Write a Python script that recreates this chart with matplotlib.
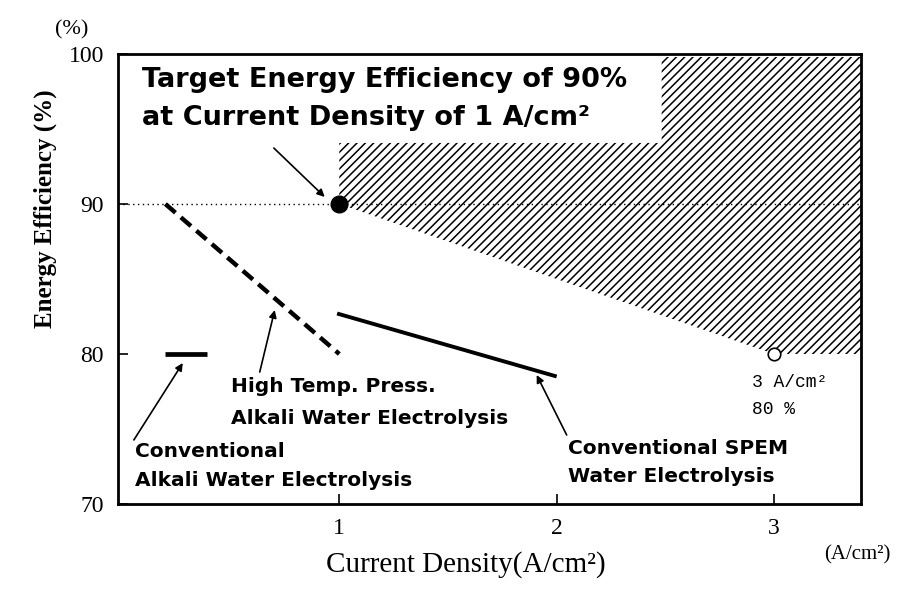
import matplotlib
matplotlib.use("Agg")
import matplotlib.pyplot as plt
from matplotlib.patches import Polygon

# ---- data ----
target_point = (1.0, 90.0)          # target: 1 A/cm2, 90 %
goal_point = (3.0, 80.0)            # 3 A/cm2, 80 %
reference_level = 90.0
conv_alkali_x = [0.2, 0.39]
conv_alkali_y = [80.0, 80.0]
htp_alkali_x = [0.2, 1.0]
htp_alkali_y = [90.0, 80.0]
spem_x = [0.99, 2.0]
spem_y = [82.7, 78.5]
x_ticks = [1, 2, 3]
y_ticks = [70, 80, 90, 100]

XMIN, XMAX = -0.018, 3.40
YMIN, YMAX = 70, 100

plt.rcParams['hatch.linewidth'] = 1.1
plt.rcParams['hatch.color'] = 'black'
fig = plt.figure(figsize=(9.02, 5.96), dpi=100)
ax = fig.add_axes([118/902, 1-504/596, 743/902, 450/596])
ax.set_xlim(XMIN, XMAX)
ax.set_ylim(YMIN, YMAX)

serif = 'Liberation Serif'
sans = 'DejaVu Sans'

# hatched target region (box cut out for the title text)
box_right = 2.483
box_bottom = 94.07
poly = Polygon([(target_point[0], box_bottom), (box_right, box_bottom),
                (box_right, YMAX - 0.2), (XMAX, YMAX - 0.2), (XMAX, goal_point[1]),
                goal_point, target_point],
               closed=True, facecolor='none', edgecolor='black', hatch='////', linewidth=0)
ax.add_patch(poly)

# dotted 90% line
ax.plot([XMIN, XMAX], [reference_level, reference_level], color='black', lw=1.0,
        linestyle=(0, (1, 2.5)), zorder=2)

# series
ax.plot(conv_alkali_x, conv_alkali_y, color='black', lw=3.4, solid_capstyle='butt', zorder=3)
ax.plot(htp_alkali_x, htp_alkali_y, color='black', lw=3.2, linestyle=(0, (3, 1.6)), zorder=3)
ax.plot(spem_x, spem_y, color='black', lw=2.8, solid_capstyle='butt', zorder=3)
ax.plot([target_point[0]], [target_point[1]], 'o', color='black', ms=12, zorder=4)
ax.plot([goal_point[0]], [goal_point[1]], 'o', mfc='white', mec='black', mew=1.2, ms=9, zorder=4)

# ticks
ax.set_xticks(x_ticks)
ax.set_xticklabels([str(t) for t in x_ticks], fontfamily=serif, fontsize=17)
ax.set_yticks(y_ticks)
ax.set_yticklabels([str(t) for t in y_ticks], fontfamily=serif, fontsize=17)
ax.tick_params(direction='in', length=7, width=1.2, pad=10)
for s in ax.spines.values():
    s.set_linewidth(2.0)

# annotation texts
bold = dict(fontfamily=sans, fontweight='bold', color='black', va='center', ha='left')
ax.text(0.092, 98.27, 'Target Energy Efficiency of 90%', fontsize=19.5, **bold)
ax.text(0.092, 95.73, 'at Current Density of 1 A/cm²', fontsize=19.5, **bold)
ax.text(0.501, 77.8, 'High Temp. Press.', fontsize=14.5, **bold)
ax.text(0.501, 75.73, 'Alkali Water Electrolysis', fontsize=14.5, **bold)
ax.text(0.06, 73.47, 'Conventional', fontsize=14.5, **bold)
ax.text(0.06, 71.6, 'Alkali Water Electrolysis', fontsize=14.5, **bold)
ax.text(2.051, 73.67, 'Conventional SPEM', fontsize=14.5, **bold)
ax.text(2.051, 71.8, 'Water Electrolysis', fontsize=14.5, **bold)
ax.text(2.897, 78.07, '3 A/cm²', fontfamily='Liberation Mono', fontsize=13, va='center', ha='left')
ax.text(2.897, 76.27, '80 %', fontfamily='Liberation Mono', fontsize=13, va='center', ha='left')

# arrows
ap = dict(arrowstyle='-|>', color='black', lw=1.2, mutation_scale=11, shrinkA=0, shrinkB=0)
ax.annotate('', xy=(0.933, 90.47), xytext=(0.699, 93.73), arrowprops=ap)
ax.annotate('', xy=(0.703, 82.93), xytext=(0.634, 78.8), arrowprops=ap)
ax.annotate('', xy=(0.280, 79.4), xytext=(0.055, 74.27), arrowprops=ap)
ax.annotate('', xy=(1.908, 78.6), xytext=(2.046, 74.6), arrowprops=ap)

# axis labels
fig.text(45/902, 1-209/596, 'Energy Efficiency (%)', rotation=90, fontfamily=serif,
         fontweight='bold', fontsize=18, ha='center', va='center')
fig.text(466/902, 1-565/596, 'Current Density(A/cm²)', fontfamily=serif, fontsize=21,
         ha='center', va='center')
fig.text(857/902, 1-555/596, '(A/cm²)', fontfamily=serif, fontsize=15, ha='center', va='center')
fig.text(72/902, 1-30/596, '(%)', fontfamily=serif, fontsize=16, ha='center', va='center')

fig.savefig('out.png', dpi=100)
